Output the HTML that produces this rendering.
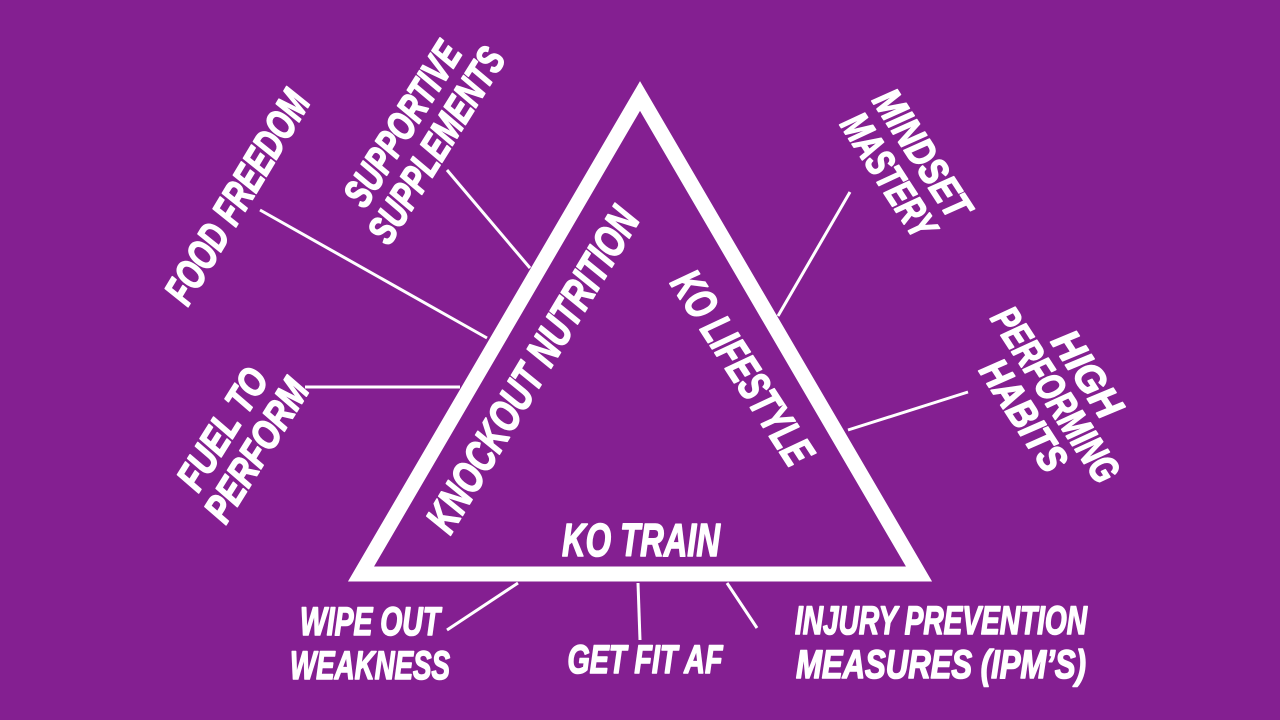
<!DOCTYPE html>
<html><head><meta charset="utf-8"><style>
html,body{margin:0;padding:0;background:#841f91;}
svg{display:block}
text{font-family:"Liberation Sans Narrow","Liberation Sans",sans-serif;font-weight:bold;font-style:italic;fill:#fff;stroke:#fff;stroke-width:1.6;stroke-linejoin:round;text-anchor:middle;dominant-baseline:central;}
</style></head><body>
<svg width="1280" height="720" viewBox="0 0 1280 720" xmlns="http://www.w3.org/2000/svg">
<rect width="1280" height="720" fill="#841f91"/>
<polygon points="640,96 361,574 919,574" fill="none" stroke="#fff" stroke-width="15" stroke-linejoin="miter"/>
<g stroke="#fff" stroke-width="3" fill="none">
<line x1="447" y1="170" x2="530" y2="268"/>
<line x1="260" y1="210" x2="487" y2="338"/>
<line x1="305" y1="387" x2="460" y2="387"/>
<line x1="850" y1="192" x2="778" y2="316"/>
<line x1="968" y1="392" x2="848" y2="430"/>
<line x1="447" y1="630" x2="518" y2="583"/>
<line x1="638" y1="583" x2="640" y2="640"/>
<line x1="727" y1="583" x2="757" y2="628"/>
</g>
<text transform="translate(533,370) rotate(-59)" font-size="44" textLength="370" lengthAdjust="spacingAndGlyphs">KNOCKOUT NUTRITION</text>
<text transform="translate(742,368) rotate(57)" font-size="44" textLength="222" lengthAdjust="spacingAndGlyphs">KO LIFESTYLE</text>
<text x="641" y="540" font-size="46" textLength="158" lengthAdjust="spacingAndGlyphs">KO TRAIN</text>
<text transform="translate(237,197) rotate(-59)" font-size="42" textLength="240" lengthAdjust="spacingAndGlyphs">FOOD FREEDOM</text>
<g transform="translate(420,135) rotate(-58)">
<text x="0" y="-20" font-size="40" textLength="185" lengthAdjust="spacingAndGlyphs">SUPPORTIVE</text>
<text x="0" y="20" font-size="40" textLength="222" lengthAdjust="spacingAndGlyphs">SUPPLEMENTS</text>
</g>
<g transform="translate(240,440) rotate(-58)">
<text x="0" y="-20" font-size="40" textLength="135" lengthAdjust="spacingAndGlyphs">FUEL TO</text>
<text x="0" y="20" font-size="40" textLength="160" lengthAdjust="spacingAndGlyphs">PERFORM</text>
</g>
<g transform="translate(905,165) rotate(57)">
<text x="0" y="-20" font-size="40" textLength="145" lengthAdjust="spacingAndGlyphs">MINDSET</text>
<text x="0" y="20" font-size="40" textLength="140" lengthAdjust="spacingAndGlyphs">MASTERY</text>
</g>
<g transform="translate(1055,395) rotate(57)">
<text x="0" y="-38" font-size="40" textLength="95" lengthAdjust="spacingAndGlyphs">HIGH</text>
<text x="0" y="0" font-size="40" textLength="200" lengthAdjust="spacingAndGlyphs">PERFORMING</text>
<text x="0" y="38" font-size="40" textLength="125" lengthAdjust="spacingAndGlyphs">HABITS</text>
</g>
<text x="370" y="622" font-size="40" textLength="140" lengthAdjust="spacingAndGlyphs">WIPE OUT</text>
<text x="370" y="666" font-size="40" textLength="160" lengthAdjust="spacingAndGlyphs">WEAKNESS</text>
<text x="645" y="660" font-size="40" textLength="155" lengthAdjust="spacingAndGlyphs">GET FIT AF</text>
<text x="941" y="621" font-size="40" textLength="292" lengthAdjust="spacingAndGlyphs">INJURY PREVENTION</text>
<text x="941" y="665" font-size="40" textLength="290" lengthAdjust="spacingAndGlyphs">MEASURES (IPM’S)</text>
</svg>
</body></html>
